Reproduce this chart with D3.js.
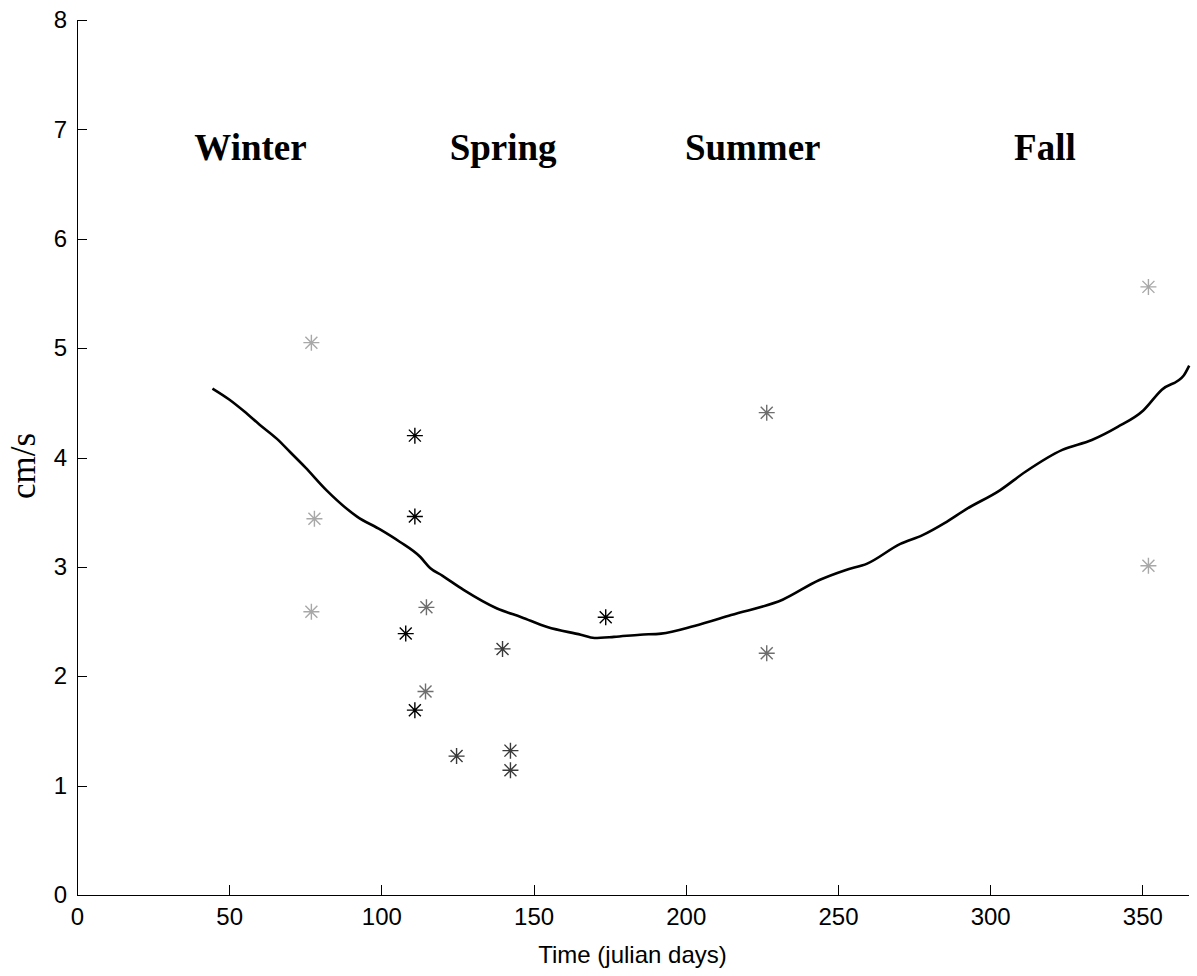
<!DOCTYPE html>
<html>
<head>
<meta charset="utf-8">
<script src="https://cdn.jsdelivr.net/npm/d3@7"></script>
<style>
  body { margin: 0; background: #fff; }
  svg { display: block; }
</style>
</head>
<body>
<svg id="chart"></svg>
<script>
// ---------- data ----------
var xTicks = [0, 50, 100, 150, 200, 250, 300, 350];
var yTicks = [0, 1, 2, 3, 4, 5, 6, 7, 8];
var seasons = ["Winter", "Spring", "Summer", "Fall"];
var seasonDays = [57, 140, 222, 318];   // where each season label sits (julian day)

// measured points (asterisks)
var pointDay   = [77, 78, 77, 111, 111, 108, 114.8, 114.5, 111, 124.7, 139.8, 142.4, 142.4, 173.7, 226.6, 226.6, 352, 352];
var pointSpeed = [5.05, 3.44, 2.59, 4.2, 3.46, 2.39, 2.63, 1.86, 1.69, 1.27, 2.25, 1.32, 1.14, 2.54, 4.41, 2.21, 5.56, 3.01];
var pointGroup = [3, 3, 3, 0, 0, 0, 2, 2, 0, 1, 1, 1, 1, 0, 2, 2, 3, 3];

// smoothed seasonal curve
var lineDay = [44.5, 50, 55, 60, 65.7, 70, 75, 82, 92, 99.7, 106, 112.8, 116, 120, 127, 138, 146, 154.5, 165.5, 170,
  176.4, 185, 191.9, 202.8, 214.9, 231.8, 243.9, 252.4, 259.6, 270.5, 277.8, 285, 292.3, 303.2, 311.6, 323.7,
  333.4, 341.9, 350.3, 356.4, 363.6, 365.4];
var lineSpeed = [4.63, 4.53, 4.42, 4.30, 4.17, 4.05, 3.91, 3.70, 3.46, 3.34, 3.23, 3.09, 2.99, 2.92, 2.79, 2.62, 2.54, 2.45, 2.38, 2.35,
  2.36, 2.38, 2.39, 2.46, 2.56, 2.70, 2.88, 2.97, 3.03, 3.21, 3.29, 3.40, 3.53, 3.70, 3.87, 4.07,
  4.16, 4.28, 4.43, 4.62, 4.75, 4.84];

function draw() {
  var width = 1197, height = 976;
  var mLeft = 77, mRight = 1188, mTop = 20, mBottom = 895;

  var svg = d3.select("#chart").attr("width", width).attr("height", height);

  var xs = d3.scaleLinear().domain([0, 365]).range([mLeft, mRight]);
  var ys = d3.scaleLinear().domain([0, 8]).range([mBottom, mTop]);
  var shade = d3.scaleOrdinal().domain([0, 1, 2, 3]).range(["#000000", "#3a3a3a", "#6e6e6e", "#a8a8a8"]);

  // ---------- axes ----------
  var xAxis = svg.append("g")
    .attr("transform", "translate(0," + mBottom + ")")
    .call(d3.axisBottom(xs).tickValues(xTicks).tickSizeInner(-10).tickSizeOuter(0).tickPadding(14));
  var yAxis = svg.append("g")
    .attr("transform", "translate(" + mLeft + ",0)")
    .call(d3.axisLeft(ys).tickValues(yTicks).tickSizeInner(-10).tickSizeOuter(0).tickPadding(10));

  [xAxis, yAxis].forEach(function(g) {
    g.select(".domain").attr("stroke", "#000").attr("stroke-width", 1.2).attr("shape-rendering", "crispEdges");
    g.selectAll(".tick line").attr("stroke", "#000").attr("shape-rendering", "crispEdges");
    g.selectAll("text").attr("font-family", "Liberation Sans, Arial, sans-serif").attr("font-size", 24).attr("fill", "#000");
  });
  xAxis.selectAll("text").attr("dy", "0.65em");

  // ---------- curve ----------
  var lineData = lineDay.map(function(d, i) { return { day: d, v: lineSpeed[i] }; });
  svg.append("path")
    .datum(lineData)
    .attr("fill", "none")
    .attr("stroke", "#000")
    .attr("stroke-width", 2.6)
    .attr("stroke-linejoin", "round")
    .attr("d", d3.line().x(function(d) { return xs(d.day); }).y(function(d) { return ys(d.v); }).curve(d3.curveMonotoneX));

  // ---------- asterisks ----------
  var pts = pointDay.map(function(d, i) { return { day: d, v: pointSpeed[i], g: pointGroup[i] }; });
  var r = 8, rd = 6;
  var star = "M" + (-r) + ",0L" + r + ",0M0," + (-r) + "L0," + r +
    "M" + (-rd) + "," + (-rd) + "L" + rd + "," + rd + "M" + (-rd) + "," + rd + "L" + rd + "," + (-rd);
  svg.append("g").selectAll("path")
    .data(pts)
    .enter()
    .append("path")
    .attr("transform", function(d) { return "translate(" + xs(d.day) + "," + ys(d.v) + ")"; })
    .attr("d", star)
    .attr("fill", "none")
    .attr("stroke", function(d) { return shade(d.g); })
    .attr("stroke-width", 1.4);

  // ---------- season labels ----------
  svg.append("g").selectAll("text")
    .data(seasons)
    .enter()
    .append("text")
    .attr("x", function(d, i) { return xs(seasonDays[i]); })
    .attr("y", 160)
    .attr("text-anchor", "middle")
    .attr("font-family", "Liberation Serif, Times New Roman, serif")
    .attr("font-weight", "bold")
    .attr("font-size", 37)
    .text(function(d) { return d; });

  // ---------- axis titles ----------
  svg.append("text")
    .attr("x", (mLeft + mRight) / 2)
    .attr("y", 963)
    .attr("text-anchor", "middle")
    .attr("font-family", "Liberation Sans, Arial, sans-serif")
    .attr("font-size", 24)
    .text("Time (julian days)");

  svg.append("text")
    .attr("transform", "translate(35,466) rotate(-90)")
    .attr("text-anchor", "middle")
    .attr("font-family", "Liberation Serif, Times New Roman, serif")
    .attr("font-size", 35)
    .text("cm/s");
}

draw();
</script>
</body>
</html>
